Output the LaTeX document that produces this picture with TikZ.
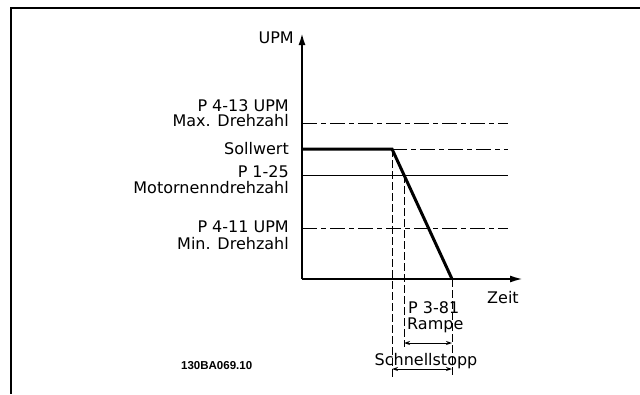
\documentclass[tikz,border=0pt]{standalone}
\usepackage{fontspec}
\setmainfont{DejaVu Sans}
\newfontfamily\codefont{Liberation Sans}
\usetikzlibrary{arrows.meta}
\begin{document}
\begin{tikzpicture}[x=1pt,y=-1pt,
  lbl/.style={font=\fontsize{16}{16}\selectfont, inner sep=0pt, anchor=base east},
  lblw/.style={font=\fontsize{16}{16}\selectfont, inner sep=0pt, anchor=base west},
  axisline/.style={line width=2pt},
  refdash/.style={line width=1pt, dash pattern=on 15pt off 4pt on 5pt off 4pt},
  refsolid/.style={line width=1pt},
  guide/.style={line width=1pt, dash pattern=on 8pt off 3pt},
  speedline/.style={line width=3pt, line join=miter},
  dimarrow/.style={line width=1pt, {Stealth[length=6pt,width=4pt]}-{Stealth[length=6pt,width=4pt]}}
]
\useasboundingbox (0,0) rectangle (640,394);
% frame
\draw[line width=2pt] (640,7.5) -- (11,7.5) -- (11,394);
% coordinates
\coordinate (O) at (302,279);
\coordinate (Ytop) at (302,33);
\coordinate (Xend) at (523,279);
\coordinate (maxL) at (302,123);
\coordinate (maxR) at (508,123);
\coordinate (sollL) at (302,149);
\coordinate (knee) at (392,149);
\coordinate (sollR) at (508,149);
\coordinate (motL) at (302,175);
\coordinate (motX) at (404,175);
\coordinate (motR) at (508,175);
\coordinate (minL) at (302,228);
\coordinate (minR) at (508,228);
\coordinate (stop) at (452,279);
\coordinate (g1) at (392,378);
\coordinate (g2) at (404,347);
\coordinate (g3) at (452,376);
\coordinate (ra) at (404,343);
\coordinate (rb) at (452,343);
\coordinate (sa) at (392,369);
\coordinate (sb) at (452,369);
% reference lines
\draw[refdash] (maxL) -- (maxR);
\draw[refdash] (knee) -- (sollR);
\draw[refsolid] (motL) -- (motR);
\draw[refdash] (minL) -- (minR);
% guides
\draw[guide] (knee) -- (g1);
\draw[guide] (motX) -- (g2);
\draw[guide] (stop) -- (g3);
% axes
\draw[axisline,-{Latex[length=12pt,width=7pt]}] (O) -- (Ytop);
\draw[axisline,-{Latex[length=13pt,width=7pt]}] (O) -- (Xend);
% speed profile
\draw[speedline] (sollL) -- (knee) -- (stop);
% dimension arrows
\draw[dimarrow] (ra) -- (rb);
\draw[dimarrow] (sa) -- (sb);
% labels
\node[lbl] (tupm) at (294,43) {UPM};
\node[lbl] (tmax1) at (289,111) {P 4-13 UPM};
\node[lbl] (tmax2) at (289,126) {Max. Drehzahl};
\node[lbl] (tsoll) at (289,154) {Sollwert};
\node[lbl] (tmot1) at (289,177) {P 1-25};
\node[lbl] (tmot2) at (289,193) {Motornenndrehzahl};
\node[lbl] (tmin1) at (289,232) {P 4-11 UPM};
\node[lbl] (tmin2) at (289,249) {Min. Drehzahl};
\node[lblw] (tzeit) at (487,303) {Zeit};
\node[lblw] (tramp1) at (408,313) {P 3-81};
\node[lblw] (tramp2) at (407,329) {Rampe};
\node[lbl, anchor=base] (tstop) at (426,365) {Schnellstopp};
\node[font=\codefont\bfseries\fontsize{11.5}{12}\selectfont, inner sep=0pt, anchor=base west] (tcode) at (181,369) {130BA069.10};
\end{tikzpicture}
\end{document}
